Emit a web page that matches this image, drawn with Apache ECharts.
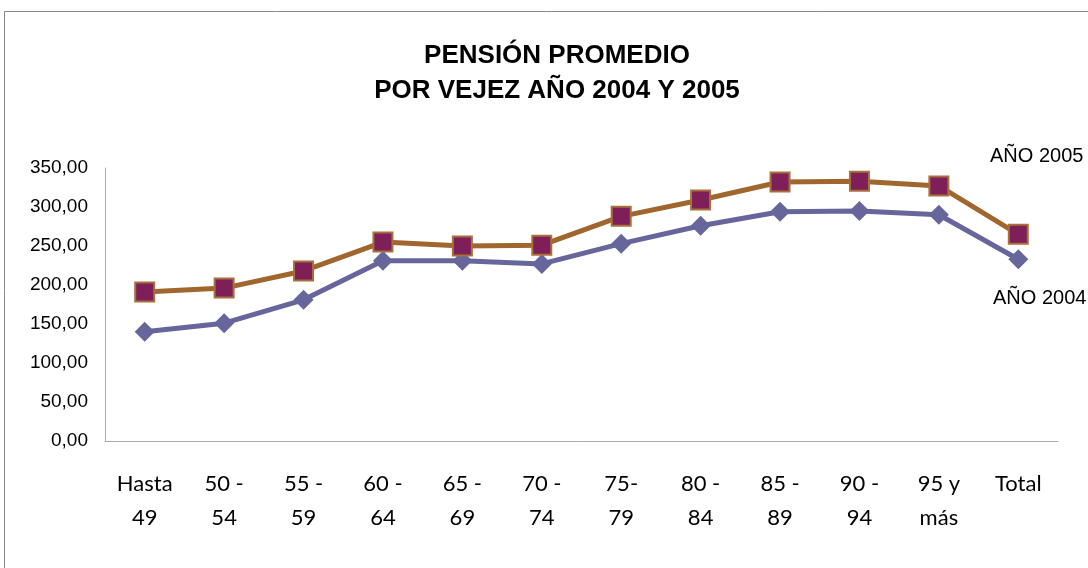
<!DOCTYPE html>
<html>
<head>
<meta charset="utf-8">
<script src="https://cdn.jsdelivr.net/npm/echarts@6/dist/echarts.min.js"></script>
<style>
  html, body { margin: 0; padding: 0; background: #fff; }
  #main { width: 1088px; height: 568px; }
</style>
</head>
<body>
<div id="main"></div>
<script>
var categories = ['Hasta\n49', '50 -\n54', '55 -\n59', '60 -\n64', '65 -\n69', '70 -\n74',
  '75-\n79', '80 -\n84', '85 -\n89', '90 -\n94', '95 y\nmás', 'Total'];
var anio2005 = [191, 196, 218, 255, 250, 251, 288, 309, 332, 333, 327, 265];
var anio2004 = [140, 151, 181, 231, 231, 227, 253, 276, 294, 295, 290, 233];
var yTicks = [0, 50, 100, 150, 200, 250, 300, 350];

var myChart = echarts.init(document.getElementById('main'));
myChart.setOption({
  animation: false,
  title: {
    text: 'PENSIÓN PROMEDIO\nPOR VEJEZ AÑO 2004 Y 2005',
    left: 552,
    textAlign: 'center',
    top: 33,
    textStyle: {
      fontFamily: 'Liberation Sans',
      fontWeight: 'bold',
      fontSize: 26,
      lineHeight: 35,
      color: '#000'
    }
  },
  graphic: [
    {
      type: 'rect',
      shape: { x: 4.5, y: 11.5, width: 1200, height: 700 },
      style: { fill: 'none', stroke: '#888', lineWidth: 1 },
      silent: true
    },
    {
      type: 'text', left: 990, top: 146,
      style: { text: 'AÑO 2005', font: '20px "Liberation Sans"', fill: '#000' }
    },
    {
      type: 'text', left: 993, top: 288,
      style: { text: 'AÑO 2004', font: '20px "Liberation Sans"', fill: '#000' }
    }
  ],
  grid: { left: 105, top: 168, right: 30, bottom: 127, containLabel: false },
  xAxis: {
    type: 'category',
    data: categories,
    boundaryGap: true,
    axisLine: { lineStyle: { color: '#aaa', width: 1 } },
    axisTick: { show: false },
    axisLabel: {
      interval: 0,
      margin: 26,
      fontFamily: 'Lato',
      fontSize: 22,
      lineHeight: 34,
      color: '#000',
      verticalAlign: 'top'
    }
  },
  yAxis: {
    type: 'value',
    min: 0,
    max: yTicks[yTicks.length - 1],
    interval: 50,
    splitLine: { show: false },
    axisLine: { show: true, lineStyle: { color: '#aaa', width: 1 } },
    axisTick: { show: false },
    axisLabel: {
      margin: 17,
      fontFamily: 'Liberation Sans',
      fontSize: 19,
      color: '#000',
      formatter: function (v) { return v.toFixed(2).replace('.', ','); }
    }
  },
  series: [
    {
      name: 'AÑO 2004',
      type: 'line',
      data: anio2004,
      symbol: 'diamond',
      symbolSize: 20,
      lineStyle: { color: '#66669c', width: 5 },
      itemStyle: { color: '#66669c', borderColor: '#66669c', borderWidth: 0 },
      z: 2
    },
    {
      name: 'AÑO 2005',
      type: 'line',
      data: anio2005,
      symbol: 'rect',
      symbolSize: 19,
      lineStyle: { color: '#a0662e', width: 5 },
      itemStyle: { color: '#7f1f5a', borderColor: '#a8703a', borderWidth: 2 },
      z: 3
    }
  ]
});
</script>
</body>
</html>
